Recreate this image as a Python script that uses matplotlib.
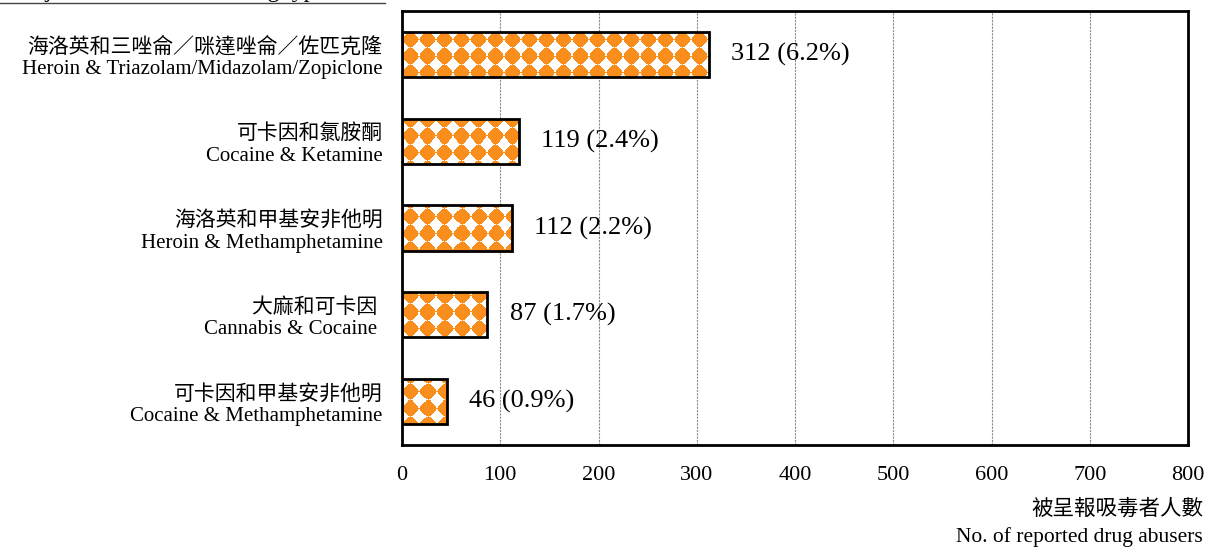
import numpy as np
import matplotlib
matplotlib.use("Agg")
import matplotlib.pyplot as plt

# fonts: Times-like for latin, CJK fallback for the Chinese text
FONTS = ['Liberation Serif', 'Noto Sans CJK TC', 'DejaVu Sans']
plt.rcParams['font.family'] = FONTS

names_zh = ['海洛英和三唑侖／咪達唑侖／佐匹克隆', '可卡因和氯胺酮', '海洛英和甲基安非他明',
            '大麻和可卡因 ', '可卡因和甲基安非他明']
names_en = ['Heroin & Triazolam/Midazolam/Zopiclone', 'Cocaine & Ketamine',
            'Heroin & Methamphetamine', 'Cannabis & Cocaine ', 'Cocaine & Methamphetamine']
abusers = [312, 119, 112, 87, 46]
percent = [6.2, 2.4, 2.2, 1.7, 0.9]
xticks = [0, 100, 200, 300, 400, 500, 600, 700, 800]

orange = '#F98E1D'
W, H = 1209, 548

fig = plt.figure(figsize=(W / 100, H / 100), dpi=100)
ax = fig.add_axes([402/W, 1 - 445/H, (1188 - 402)/W, (445 - 11)/H])

ax.set_xlim(0, 800)
ax.set_ylim(-0.5, 4.5)
ax.invert_yaxis()

ypos = np.arange(len(abusers))
bar_h = 0.52

# white base, pattern image clipped to it, black outline on top
base = ax.barh(ypos, abusers, height=bar_h, color='white', zorder=1)


def blob_pattern(x0, y0, hpx, wpx, px=17, py=16, r=8.0, p=1.35):
    # rounded orange diamonds on a fixed pixel grid (page anchored)
    rows, cols = np.mgrid[0:hpx, 0:wpx]
    cols = cols + x0
    rows = rows + y0
    u = ((cols - 410 + px / 2) % px) - px / 2
    v = ((rows - 40 + py / 2) % py) - py / 2
    mask = (np.abs(u) ** p + np.abs(v) ** p) <= r ** p
    img = np.ones((hpx, wpx, 3))
    img[mask] = matplotlib.colors.to_rgb(orange)
    return img


for rect, val, y in zip(base, abusers, ypos):
    p0 = ax.transData.transform((0, y - bar_h / 2))
    p1 = ax.transData.transform((val, y + bar_h / 2))
    x0 = int(round(min(p0[0], p1[0])))
    ytop = int(round(H - max(p0[1], p1[1])))
    wpx = int(round(abs(p1[0] - p0[0])))
    hpx = int(round(abs(p1[1] - p0[1])))
    img = blob_pattern(x0, ytop, hpx, wpx)
    im = ax.imshow(img, extent=(0, val, y + bar_h / 2, y - bar_h / 2), origin='upper',
                   aspect='auto', interpolation='nearest', zorder=2)
    im.set_clip_path(rect)

ax.barh(ypos, abusers, height=bar_h, facecolor='none', edgecolor='black',
        linewidth=2.0, zorder=3)

for y, val, pct in zip(ypos, abusers, percent):
    ax.annotate(f'{val} ({pct}%)', xy=(val, y), xytext=(16, 0), textcoords='offset points',
                va='center', ha='left', fontsize=19, family=FONTS)

ax.set_xticks(xticks)
ax.set_xticklabels([str(t) for t in xticks], fontsize=16)
ax.set_yticks(ypos)
ax.set_yticklabels([f'{zh}\n{en}' for zh, en in zip(names_zh, names_en)],
                   fontsize=15, multialignment='right')
ax.tick_params(axis='both', length=0)
ax.tick_params(axis='x', pad=15)
ax.tick_params(axis='y', pad=14)

ax.set_axisbelow(True)
ax.xaxis.grid(True, color='#8a8a8a', linestyle=(0, (2, 1)), linewidth=0.8, zorder=0)
ax.yaxis.grid(False)

for s in ax.spines.values():
    s.set_linewidth(2.0)
    s.set_color('black')

# axis title, bottom right
fig.text(1203/W, 1 - 509/H, '被呈報吸毒者人數', ha='right', va='center', fontsize=15.5)
fig.text(1203/W, 1 - 537/H, 'No. of reported drug abusers', ha='right', va='center',
         fontsize=15.5)

# heading of the table above, running off the top of the canvas
fig.text(14/W, 1 + 3/H, 'Major combinations of drug types', ha='left', va='baseline',
         fontsize=17)
fig.add_artist(plt.Line2D([0, 385/W], [1 - 3/H, 1 - 3/H], color='#444444',
                          linewidth=1.0, transform=fig.transFigure))

fig.savefig('out.png', dpi=100)
